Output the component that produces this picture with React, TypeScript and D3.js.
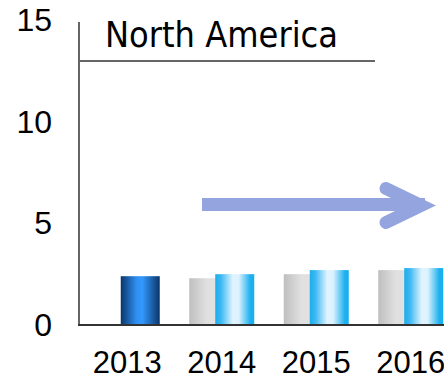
import React from "react";
import * as d3 from "d3";

const years = ["2013", "2014", "2015", "2016"];
const currentValues = [2.4, 2.5, 2.7, 2.8];
const previousValues: (number | null)[] = [null, 2.3, 2.5, 2.7];
const yTicks = [0, 5, 10, 15];
const title = "North America";

const W = 444;
const H = 379;

export default function App() {
  const x = d3.scaleBand<string>().domain(years).range([80, 458]);
  const y = d3.scaleLinear().domain([0, 15]).range([325, 20]);
  const barW = 39;
  const overlap = 13;

  const tickFont = "'Liberation Sans', Arial, sans-serif";

  return (
    <svg
      width={W}
      height={H}
      style={{ position: "absolute", left: 0, top: 0 }}
    >
      <defs>
        <linearGradient id="gDark" x1="0" x2="1" y1="0" y2="0">
          <stop offset="0%" stopColor="#0a356b" />
          <stop offset="40%" stopColor="#2f8ff0" />
          <stop offset="55%" stopColor="#3399ff" />
          <stop offset="100%" stopColor="#0b3468" />
        </linearGradient>
        <linearGradient id="gBlue" x1="0" x2="1" y1="0" y2="0">
          <stop offset="0%" stopColor="#19aeee" />
          <stop offset="15%" stopColor="#3fb9f2" />
          <stop offset="45%" stopColor="#e0f4ff" />
          <stop offset="60%" stopColor="#dcf2fe" />
          <stop offset="90%" stopColor="#1cb0ef" />
          <stop offset="100%" stopColor="#19aeee" />
        </linearGradient>
        <linearGradient id="gGray" x1="0" x2="1" y1="0" y2="0">
          <stop offset="0%" stopColor="#bfbfbf" />
          <stop offset="45%" stopColor="#e0e0e0" />
          <stop offset="100%" stopColor="#e2e2e2" />
        </linearGradient>
      </defs>

      {/* previous-year bars sit behind the current ones */}
      {years.map((yr, i) => {
        const v = previousValues[i];
        if (v == null) return null;
        const c = (x(yr) as number) + x.bandwidth() / 2;
        const left = c - barW / 2 - overlap;
        return (
          <rect
            key={"p" + yr}
            x={left}
            y={y(v)}
            width={barW}
            height={y(0) - y(v)}
            fill="url(#gGray)"
          />
        );
      })}
      {years.map((yr, i) => {
        const v = currentValues[i];
        const c = (x(yr) as number) + x.bandwidth() / 2;
        const left = c - barW / 2 + overlap;
        return (
          <rect
            key={"c" + yr}
            x={left}
            y={y(v)}
            width={barW}
            height={y(0) - y(v)}
            fill={i === 0 ? "url(#gDark)" : "url(#gBlue)"}
          />
        );
      })}

      {/* axes */}
      <line x1={79} x2={79} y1={22} y2={y(0)} stroke="#333" strokeWidth={1.5} />
      <line x1={78} x2={W} y1={y(0)} y2={y(0)} stroke="#333" strokeWidth={2} />

      {yTicks.map((t) => (
        <text
          key={t}
          x={52}
          y={y(t)}
          textAnchor="end"
          dominantBaseline="central"
          fontFamily={tickFont}
          fontSize={32}
          fill="#000"
        >
          {t}
        </text>
      ))}

      {years.map((yr) => (
        <text
          key={"l" + yr}
          x={(x(yr) as number) + x.bandwidth() / 2}
          y={373}
          textAnchor="middle"
          fontFamily={tickFont}
          fontSize={31}
          fill="#000"
        >
          {yr}
        </text>
      ))}

      {/* title and underline */}
      <text
        x={105}
        y={47}
        fontFamily="'DejaVu Sans', Verdana, sans-serif"
        fontSize={35}
        textLength={233}
        lengthAdjust="spacingAndGlyphs"
        fill="#000"
      >
        {title}
      </text>
      <line x1={80} x2={375} y1={61} y2={61} stroke="#333" strokeWidth={1.5} />

      {/* trend arrow */}
      <line x1={202} x2={425} y1={204.5} y2={204.5} stroke="#94a4de" strokeWidth={13} />
      <path
        d="M386,188.5 L421,205.5 L386,222.5"
        fill="none"
        stroke="#94a4de"
        strokeWidth={13}
        strokeLinecap="round"
        strokeLinejoin="miter"
        strokeMiterlimit={10}
      />
    </svg>
  );
}
